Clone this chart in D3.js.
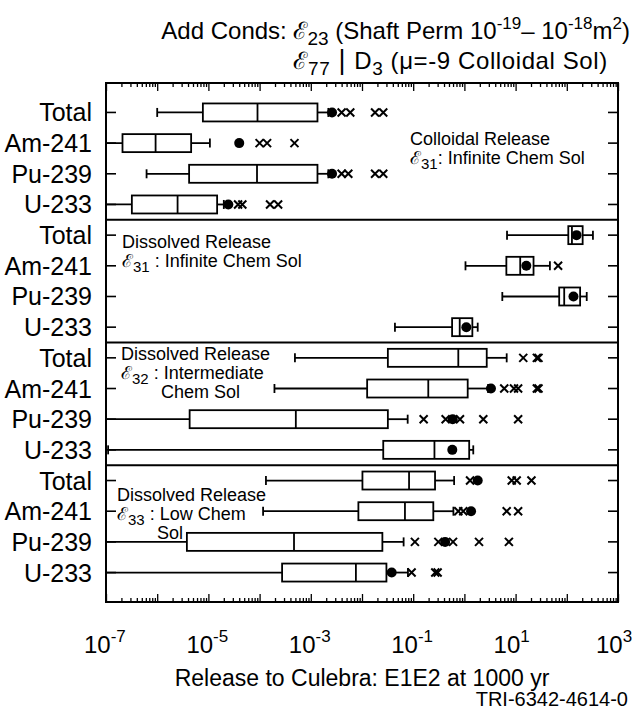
<!DOCTYPE html>
<html><head><meta charset="utf-8">
<script src="https://cdn.jsdelivr.net/npm/d3@7"></script>
<style>body{margin:0;background:#fff}text{font-family:"Liberation Sans",Arial,Helvetica,sans-serif;fill:#000}</style>
</head><body><svg id="c" width="641" height="725"></svg>
<script>
// ---------- data ----------
const panels = ["colloidal31", "dissolved31", "dissolved32", "dissolved33"];
const categories = ["Total", "Am-241", "Pu-239", "U-233"];
// rows are panel-major: 4 panels x 4 categories
const whiskerLo = [1.0e-6, 1e-8, 6.2e-7, 1e-8,
                   6.8, 1.05, 5.5, 0.044,
                   4.9e-4, 1.95e-4, 1e-8, 1.1e-7,
                   1.33e-4, 1.17e-4, 1e-8, 1e-8];
const q1 = [7.8e-6, 2.1e-7, 4.2e-6, 3.2e-7,
            107, 6.6, 71, 0.575,
            0.032, 0.0126, 4.3e-6, 0.026,
            0.0102, 0.0085, 3.8e-6, 2.75e-4];
const median = [9.1e-5, 9.3e-7, 8.9e-5, 2.5e-6,
                126, 12.3, 89, 0.81,
                0.76, 0.197, 5.1e-4, 0.26,
                0.083, 0.069, 4.7e-4, 7.6e-3];
const q3 = [1.35e-3, 4.6e-6, 1.35e-3, 1.48e-5,
            204, 22.4, 182, 1.43,
            2.73, 1.16, 0.032, 1.24,
            0.267, 0.247, 0.025, 0.030];
const whiskerHi = [2.2e-3, 1.07e-5, 2.2e-3, 2.0e-5,
                   324, 46.8, 245, 1.82,
                   6.7, 2.9, 0.078, 1.49,
                   0.63, 0.61, 0.065, 0.079];
const mean = [2.6e-3, 4.0e-5, 2.6e-3, 2.45e-5,
              155, 16.2, 135, 1.09,
              null, 3.3, 0.59, 0.58,
              1.82, 1.35, 0.42, 0.038];
const outliers = [[4.0e-3, 5.9e-3, 1.8e-2, 2.6e-2], [1.0e-4, 1.4e-4, 4.8e-4], [4.0e-3, 5.4e-3, 1.8e-2, 2.6e-2], [3.8e-5, 4.6e-5, 1.6e-4, 2.3e-4],
                  [], [67.6], [], [],
                  [14.1, 26, 28], [6.0, 9.3, 11.2, 26, 28], [0.16, 0.43, 0.82, 2.34, 11.2], [],
                  [1.29, 8.4, 10.5, 20.4], [0.76, 0.95, 6.7, 11.2], [0.108, 0.31, 0.60, 1.93, 7.4], [0.093, 0.27, 0.30]];
const majorTicks = [1e-7, 1e-6, 1e-5, 1e-4, 1e-3, 1e-2, 1e-1, 1e0, 1e1, 1e2, 1e3];
const labelExps = [-7, -5, -3, -1, 1, 3];
const xTitle = "Release to Culebra: E1E2 at 1000 yr";
const footer = "TRI-6342-4614-0";

// ---------- layout ----------
const L = 106, R = 618, T = 83, B = 602;
const svg = d3.select("#c");
const rows = [];
panels.forEach((p, pi) => categories.forEach((c, ci) => rows.push({key: p + "|" + c, cat: c, i: pi * 4 + ci})));
const x = d3.scaleLog().domain([1e-7, 1e3]).range([L, R]);
const y = d3.scalePoint().domain(rows.map(r => r.key)).range([T, B]).padding(0.96);

svg.append("defs").append("clipPath").attr("id", "clip")
  .append("rect").attr("x", L).attr("y", T).attr("width", R - L).attr("height", B - T);

// axes ticks (inside frame)
const minor = [];
for (let e = -7; e < 3; e++) for (let m = 2; m <= 9; m++) minor.push(m * Math.pow(10, e));
function addAxis(gen, yy, vals, size) {
  const g = svg.append("g").attr("transform", `translate(0,${yy})`)
    .call(gen(x).tickValues(vals).tickSize(size).tickFormat(""));
  g.select(".domain").remove();
  g.selectAll("line").attr("stroke", "#000").attr("stroke-width", 1.3);
}
addAxis(d3.axisTop, T, majorTicks, -8);
addAxis(d3.axisTop, T, minor, -4);
addAxis(d3.axisBottom, B, majorTicks, -8);
addAxis(d3.axisBottom, B, minor, -4);

// row ticks left & right
const rt = svg.append("g").attr("stroke", "#000").attr("stroke-width", 1.6);
rows.forEach(r => {
  rt.append("line").attr("x1", L).attr("x2", L + 10).attr("y1", y(r.key)).attr("y2", y(r.key));
  rt.append("line").attr("x1", R - 10).attr("x2", R).attr("y1", y(r.key)).attr("y2", y(r.key));
});

// panel separators
[4, 8, 12].forEach(k => {
  const yy = (y(rows[k - 1].key) + y(rows[k].key)) / 2;
  svg.append("line").attr("x1", L).attr("x2", R).attr("y1", yy).attr("y2", yy)
    .attr("stroke", "#000").attr("stroke-width", 2);
});

// boxes
const plot = svg.append("g").attr("clip-path", "url(#clip)")
  .attr("stroke", "#000").attr("stroke-width", 1.8).attr("fill", "none");
const BH = 18, CAP = 9;
rows.forEach(r => {
  const i = r.i, cy = y(r.key);
  const g = plot.append("g");
  const xl = x(Math.max(whiskerLo[i], 1e-8));
  g.append("line").attr("x1", xl).attr("x2", x(q1[i])).attr("y1", cy).attr("y2", cy);
  g.append("line").attr("x1", x(q3[i])).attr("x2", x(whiskerHi[i])).attr("y1", cy).attr("y2", cy);
  if (whiskerLo[i] >= 1e-7)
    g.append("line").attr("x1", xl).attr("x2", xl).attr("y1", cy - CAP / 2).attr("y2", cy + CAP / 2);
  g.append("line").attr("x1", x(whiskerHi[i])).attr("x2", x(whiskerHi[i])).attr("y1", cy - CAP / 2).attr("y2", cy + CAP / 2);
  g.append("rect").attr("x", x(q1[i])).attr("y", cy - BH / 2)
    .attr("width", x(q3[i]) - x(q1[i])).attr("height", BH).attr("fill", "#fff");
  g.append("line").attr("x1", x(median[i])).attr("x2", x(median[i])).attr("y1", cy - BH / 2).attr("y2", cy + BH / 2);
  outliers[i].forEach(v => {
    const ox = x(v), s = 4;
    g.append("path").attr("d", `M${ox - s},${cy - s}L${ox + s},${cy + s}M${ox - s},${cy + s}L${ox + s},${cy - s}`)
      .attr("stroke-width", 2);
  });
  if (mean[i] != null)
    g.append("circle").attr("cx", x(mean[i])).attr("cy", cy).attr("r", 5).attr("fill", "#000").attr("stroke", "none");
});

// frame
svg.append("rect").attr("x", L).attr("y", T).attr("width", R - L).attr("height", B - T)
  .attr("fill", "none").attr("stroke", "#000").attr("stroke-width", 2);

// row labels
svg.append("g").selectAll("text").data(rows).join("text")
  .attr("x", 92).attr("y", r => y(r.key) + 9).attr("text-anchor", "end")
  .attr("font-size", 25).text(r => r.cat);

// tick labels
const tl = svg.append("g");
labelExps.forEach(e => {
  const t = tl.append("text").attr("x", x(Math.pow(10, e)) - 22).attr("y", 653).attr("font-size", 24);
  t.append("tspan").text("10");
  t.append("tspan").attr("dy", -11).attr("font-size", 17).text(e < 0 ? "-" + (-e) : String(e));
});
svg.append("text").attr("x", (L + R) / 2).attr("y", 686).attr("text-anchor", "middle")
  .attr("font-size", 23).text(xTitle);
svg.append("text").attr("x", 628).attr("y", 706).attr("text-anchor", "end")
  .attr("font-size", 20).text(footer);

// title
const t1 = svg.append("text").attr("x", 630).attr("y", 39).attr("font-size", 24).attr("text-anchor", "end");
t1.append("tspan").text("Add Conds: ");
t1.append("tspan").text("ℰ");
t1.append("tspan").attr("dy", 6).attr("font-size", 19).text("23");
t1.append("tspan").attr("dy", -6).text(" (Shaft Perm 10");
t1.append("tspan").attr("dy", -10).attr("font-size", 17).text("-19");
t1.append("tspan").attr("dy", 10).text("– 10");
t1.append("tspan").attr("dy", -10).attr("font-size", 17).text("-18");
t1.append("tspan").attr("dy", 10).text("m");
t1.append("tspan").attr("dy", -10).attr("font-size", 17).text("2");
t1.append("tspan").attr("dy", 10).text(")");
const eX = t1.node().getStartPositionOfChar(11).x;
const t2 = svg.append("text").attr("x", eX).attr("y", 69).attr("font-size", 24).attr("letter-spacing", 0.6);
t2.append("tspan").text("ℰ");
t2.append("tspan").attr("dy", 6).attr("font-size", 19).text("77");
t2.append("tspan").attr("dy", -6).attr("font-size", 27).text(" | ");
t2.append("tspan").text("D");
t2.append("tspan").attr("dy", 6).attr("font-size", 19).text("3");
t2.append("tspan").attr("dy", -6).text(" (μ=-9 Colloidal Sol)");

// panel annotations
function annot(xx, yy, lines) {
  lines.forEach((ln, k) => {
    const t = svg.append("text").attr("x", xx + (ln.dx || 0)).attr("y", yy[k]).attr("font-size", 18);
    if (ln.sub) {
      t.append("tspan").text("ℰ");
      t.append("tspan").attr("dy", 5).attr("font-size", 15).text(ln.sub);
      t.append("tspan").attr("dy", -5).text(ln.text);
    } else t.text(ln.text);
  });
}
annot(410, [145, 164], [{text: "Colloidal Release"}, {sub: "31", text: ": Infinite Chem Sol"}]);
annot(122, [248, 267], [{text: "Dissolved Release"}, {sub: "31", text: " : Infinite Chem Sol"}]);
annot(121, [360, 379, 398], [{text: "Dissolved Release"}, {sub: "32", text: " : Intermediate"}, {text: "Chem Sol", dx: 40}]);
annot(117, [501, 520, 539], [{text: "Dissolved Release"}, {sub: "33", text: " : Low Chem"}, {text: "Sol", dx: 40}]);
</script></body></html>
